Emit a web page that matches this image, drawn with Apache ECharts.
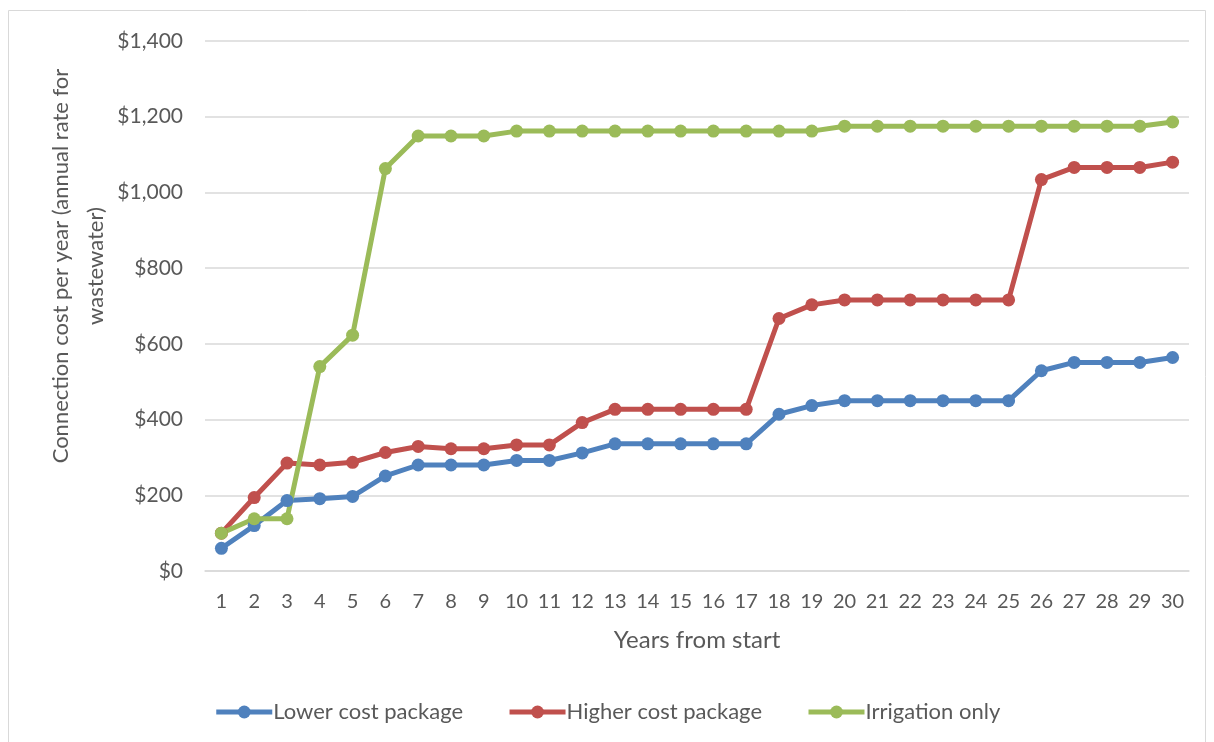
<!DOCTYPE html>
<html>
<head>
<meta charset="utf-8">
<script src="https://cdn.jsdelivr.net/npm/echarts@6/dist/echarts.min.js"></script>
<style>
  html, body { margin: 0; padding: 0; background: #fff; }
  #chart { width: 1214px; height: 742px; }
</style>
</head>
<body>
<div id="chart"></div>
<script>
// years on the x axis
const years = ['1','2','3','4','5','6','7','8','9','10','11','12','13','14','15','16','17','18','19','20','21','22','23','24','25','26','27','28','29','30'];

// annual connection cost
const lowerCost = [60,120,186,191,197,251,280,280,280,292,292,312,336,336,336,336,336,414,437,450,450,450,450,450,450,529,551,551,551,564];
const higherCost = [100,194,285,280,287,313,329,323,323,333,333,392,427,427,427,427,427,667,703,716,716,716,716,716,716,1034,1066,1066,1066,1080];
const irrigationOnly = [100,138,138,540,623,1063,1149,1149,1149,1162,1162,1162,1162,1162,1162,1162,1162,1162,1162,1175,1175,1175,1175,1175,1175,1175,1175,1175,1175,1186];

const seriesNames = ['Lower cost package', 'Higher cost package', 'Irrigation only'];
const colors = ['#4F81BD', '#C0504D', '#9BBB59'];

const chart = echarts.init(document.getElementById('chart'));
const font = 'Lato, "Open Sans", sans-serif';
const textColor = '#595959';

const makeSeries = (name, data, color) => ({
  name: name,
  type: 'line',
  data: data,
  symbol: 'circle',
  symbolSize: 13,
  lineStyle: { color: color, width: 5 },
  itemStyle: { color: color },
  emphasis: { disabled: true }
});

const option = {
  animation: false,
  textStyle: { fontFamily: font },
  grid: { left: 205, right: 25, top: 41, bottom: 171 },
  legend: {
    bottom: 14,
    left: 'center',
    itemWidth: 56,
    itemHeight: 16,
    itemGap: 44,
    lineStyle: { width: 5 },
    textStyle: { color: textColor, fontSize: 22, fontFamily: font, padding: [0, 0, 0, -4] },
    data: seriesNames
  },
  xAxis: {
    type: 'category',
    data: years,
    boundaryGap: true,
    name: 'Years from start',
    nameLocation: 'middle',
    nameGap: 57,
    nameTextStyle: { color: textColor, fontSize: 24, fontFamily: font },
    axisLine: { lineStyle: { color: '#d9d9d9', width: 1.5 } },
    axisTick: { show: false },
    axisLabel: { color: textColor, fontSize: 20, margin: 21, interval: 0 }
  },
  yAxis: {
    type: 'value',
    min: 0,
    max: 1400,
    interval: 200,
    axisLine: { show: false },
    axisTick: { show: false },
    splitLine: { lineStyle: { color: '#d9d9d9', width: 1.5 } },
    axisLabel: {
      color: textColor,
      fontSize: 21,
      margin: 22,
      formatter: v => '$' + v.toLocaleString('en-US')
    }
  },
  graphic: [
    {
      type: 'rect',
      shape: { x: 8.5, y: 10.5, width: 1197, height: 740 },
      style: { fill: 'none', stroke: '#d9d9d9', lineWidth: 1 },
      silent: true
    },
    {
      type: 'text',
      x: 78,
      y: 266,
      rotation: Math.PI / 2,
      style: {
        text: 'Connection cost per year (annual rate for\nwastewater)',
        fill: textColor,
        font: '22px ' + font,
        align: 'center',
        verticalAlign: 'middle',
        lineHeight: 35
      }
    }
  ],
  series: [
    makeSeries(seriesNames[0], lowerCost, colors[0]),
    makeSeries(seriesNames[1], higherCost, colors[1]),
    makeSeries(seriesNames[2], irrigationOnly, colors[2])
  ]
};

chart.setOption(option);
</script>
</body>
</html>
